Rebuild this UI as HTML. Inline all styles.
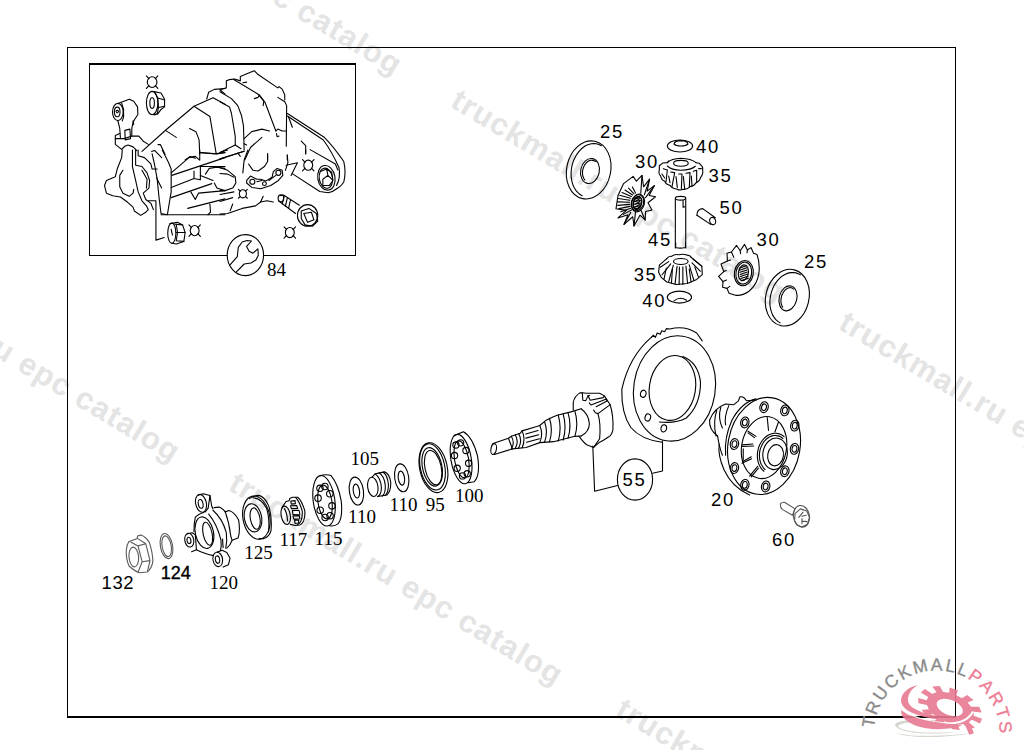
<!DOCTYPE html>
<html><head><meta charset="utf-8">
<style>
html,body{margin:0;padding:0;background:#fff;width:1024px;height:750px;overflow:hidden}
svg{display:block}
.wm{font-family:"Liberation Sans",sans-serif;font-weight:bold;font-size:31px;letter-spacing:1.1px;fill:#e4e4e4}
.ls{font-family:"Liberation Sans",sans-serif;font-size:18.5px;letter-spacing:1.6px;fill:#000}
.lsb{font-family:"Liberation Sans",sans-serif;font-size:18px;fill:#000;stroke:#000;stroke-width:0.35}
.lf{font-family:"Liberation Serif",serif;font-size:19px;fill:#000}
.d{fill:none;stroke:#000;stroke-width:1.1;stroke-linejoin:round;stroke-linecap:round}
.d *{vector-effect:non-scaling-stroke}
</style></head><body>
<svg width="1024" height="750" viewBox="0 0 1024 750">
<!-- watermarks -->
<g class="wm">
<text transform="translate(66,-121) rotate(31)">truckmall.ru epc catalog</text>
<text transform="translate(449,106) rotate(31)">truckmall.ru epc catalog</text>
<text transform="translate(837,328) rotate(31)">truckmall.ru epc catalog</text>
<text transform="translate(-156,266) rotate(31)">truckmall.ru epc catalog</text>
<text transform="translate(227,489) rotate(31)">truckmall.ru epc catalog</text>
<text transform="translate(614,715) rotate(31)">truckmall.ru epc catalog</text>
</g>
<!-- borders -->
<rect x="67.5" y="47.5" width="888" height="669" fill="none" stroke="#000" stroke-width="1"/>
<line x1="67" y1="717" x2="956" y2="717" stroke="#000" stroke-width="2"/>
<rect x="89.5" y="63.5" width="266" height="192" fill="none" stroke="#000" stroke-width="1"/>
<line x1="89" y1="64" x2="356" y2="64" stroke="#000" stroke-width="2"/>
<g class="d" transform="translate(95,65) scale(0.12695)">
<!-- X symbol -->
<ellipse cx="450" cy="135" rx="38" ry="42"/>
<path d="M405 85 L425 108 M495 85 L475 108 M405 185 L425 162 M495 185 L475 162"/>
<!-- nut -->
<ellipse cx="450" cy="300" rx="45" ry="92"/>
<ellipse cx="450" cy="300" rx="18" ry="42"/>
<path d="M465 210 L520 220 L548 270 L548 330 L520 350 L495 385 L465 393"/>
<path d="M470 215 L495 260 L548 275 M495 260 L500 335 L548 325 M500 335 L490 385"/>
<!-- arm / bushing -->
<ellipse cx="180" cy="370" rx="42" ry="68"/>
<ellipse cx="175" cy="370" rx="22" ry="38"/>
<path d="M165 365 q10 -15 20 0 q-5 15 -15 10"/>
<path d="M185 302 L270 270 L305 285 L335 330 L338 390 L318 420 L300 450 L290 500 L290 560"/>
<path d="M180 438 L195 500 L200 570"/>
<path d="M210 300 L225 350 L225 410 L215 440"/>
<path d="M300 440 L305 470"/>
<path d="M235 515 L275 505 L280 580 L238 590 Z"/>
<path d="M195 540 L160 555 L160 625 L210 665 L235 640 L260 630 L300 645 L330 675"/>
<path d="M160 580 L230 580 L290 560 L345 560 L380 600 L420 625"/>
<!-- housing top edges -->
<path d="M370 680 L560 510 L780 325 L930 258 L1024 310"/>
<path d="M780 325 L905 405 L955 700"/>
<path d="M555 515 L640 570"/>
<path d="M880 268 L895 215 L940 192 L1024 185"/>
<path d="M985 195 L1024 230"/>
<path d="M745 500 L795 525 L820 590 L825 700"/>
<path d="M825 690 L960 700 L1024 690"/>
<path d="M446 682 L469 673 L525 729"/>
<path d="M496 627 L515 627 L552 705"/>
<path d="M710 748 L750 720 L790 735"/>
</g>

<g class="d" transform="translate(220,65) scale(0.12695)">
<path d="M0 195 L50 180 L50 125 L75 115 L115 110 L160 125 L160 90 L245 55 L270 45 L300 75 L455 180 L465 170 L490 190 L510 235 L510 275"/>
<path d="M0 210 L90 265 L140 320 L170 400 L185 480 L190 670"/>
<path d="M0 290 L75 330 L90 380 L120 560 L120 630 L0 690"/>
<path d="M120 630 L165 660"/>
<path d="M105 112 L300 230 L355 295 L440 520"/>
<path d="M180 140 L210 135"/>
<path d="M270 265 L300 255 L310 235 L345 285 L340 320"/>
<path d="M455 255 L510 290 L525 320 L522 640"/>
<path d="M440 520 L455 505 L490 520 L522 520"/>
<path d="M445 540 L450 565 L465 560"/>
<path d="M190 580 L250 525 L330 505 L390 520"/>
<path d="M195 748 L240 650 L330 570"/>


<path d="M540 410 L570 490"/>
<path d="M640 600 L675 635 L675 700"/>

<path d="M0 740 L190 680"/>
<path d="M375 700 L375 748 M530 710 L530 748"/>
<path d="M190 620 L210 630"/>
</g>

<g class="d" transform="translate(95,150) scale(0.12695)">
<path d="M215 0 L210 60 L175 150 L160 210 L90 240 L75 280 L90 340 L140 360 L200 370 L255 410 L300 450 L310 480 L360 515 L400 490 L420 470 L405 440 L370 400 L340 330 L320 240 L295 130 L295 0"/>
<path d="M220 160 L195 200 L195 290 L220 340 L270 365 L300 340 L305 310"/>
<path d="M320 0 L320 120 L370 130 L410 180 L430 240 L425 300 L380 340 L400 390 L440 420 L460 470"/>
<path d="M340 0 L340 45 L390 60 L440 110 L450 150 L490 150"/>
<path d="M370 160 L410 230 L405 300"/>

<path d="M450 30 L470 120 L490 230 L505 380 L520 500 L570 510 L580 450 L600 330 L600 150 L580 100 L530 0"/>
<path d="M485 220 L525 300"/>
<path d="M420 400 L480 400 L480 710 L545 690"/>
<path d="M520 510 L1024 510"/>
<path d="M600 180 L740 60 L790 50 L825 80 L825 0"/>
<path d="M825 20 L940 30 L1024 20"/>
<path d="M605 200 L1024 60"/>
<path d="M600 295 L780 225 L780 165 M780 225 L830 235 L830 130 L1024 130"/>
<path d="M600 375 L920 265"/>
<path d="M830 200 L930 240"/>
<path d="M870 190 L900 145 L960 135 L1024 145"/>
<path d="M940 260 L960 300 L1024 320"/>
<path d="M755 330 L790 390 L815 340 L1024 320"/>
<path d="M730 460 L1024 385"/>
<path d="M905 425 L910 490 L890 510"/>
<!-- nut -->
<ellipse cx="605" cy="655" rx="32" ry="80"/>
<path d="M590 580 L650 570 L690 590 L710 650 L700 720 L640 740 L605 735"/>
<path d="M630 585 L690 590 M640 650 L710 650 M640 715 L700 720 M640 585 L650 650 L640 715"/>
<path d="M600 625 L610 670"/>
<!-- X -->
<ellipse cx="785" cy="635" rx="35" ry="40"/>
<path d="M740 590 L760 612 M830 590 L810 612 M740 680 L760 658 M830 680 L810 658"/>
</g>

<g class="d" transform="translate(220,150) scale(0.12695)">
<path d="M0 70 L190 10 M0 20 L60 0"/>
<path d="M140 25 L160 50"/>
<path d="M220 0 L190 80 L180 180"/>
<path d="M225 110 L260 160 L300 165 L350 130 L375 90 L375 30"/>
<path d="M0 140 L60 160 L120 210 L125 260 L100 300 L40 320 L0 320"/>
<path d="M0 185 L60 190 L110 215"/>
<path d="M210 240 L240 205 L290 230 L320 230 L360 245 L410 215 L420 170 L450 145 L490 160 L495 200 L460 240 L400 280 L320 305 L250 295 L210 260 Z"/>
<circle cx="255" cy="250" r="20"/><circle cx="350" cy="265" r="15"/><circle cx="460" cy="180" r="20"/>
<path d="M290 250 L330 240 M385 240 L440 200"/>
<ellipse cx="180" cy="345" rx="28" ry="32"/>
<path d="M145 310 L160 325 M215 310 L200 325 M145 380 L160 365 M215 380 L200 365"/>
<path d="M0 350 L110 330 M0 405 L100 375"/>
<path d="M0 505 L60 500 L175 460 L280 440 L320 410 L340 365"/>
<path d="M320 410 L370 400 L420 410"/>
<path d="M80 480 L100 425"/>
<path d="M530 40 L535 100 L515 160 M520 120 L610 100 L560 200"/>
<ellipse cx="695" cy="120" rx="35" ry="40"/>
<path d="M650 75 L670 97 M740 75 L720 97 M650 165 L670 143 M740 165 L720 143"/>



<path d="M675 0 L675 30"/>
<path d="M531 -287 L824 -98 Q900 -20 975 91 Q995 176 975 252 Q950 290 928 299 Q890 330 852 337 L786 327 L569 186"/>
<path d="M531 -268 L814 -79 Q880 10 937 138 Q952 214 918 280"/>
<path d="M710 -3 L909 110 L928 157"/>
<!-- nut -->
<ellipse cx="838" cy="219" rx="68" ry="98" transform="rotate(-10 838 219)"/>
<ellipse cx="834" cy="222" rx="52" ry="80" transform="rotate(-10 834 222)"/>
<path d="M790 170 L840 150 L880 175 L890 240 L860 280 L810 280 M840 150 L850 200 L890 240 M850 200 L810 230 L810 280"/>
<!-- bolt -->
<path d="M470 360 L500 355 L625 435 M460 400 L595 500"/>
<ellipse cx="480" cy="380" rx="22" ry="28"/>
<path d="M505 365 L490 425 M530 380 L515 445 M555 395 L540 460"/>
<ellipse cx="690" cy="515" rx="80" ry="85"/>
<path d="M640 480 L700 460 L760 500 L770 560 L730 600 L670 590 L640 540 Z"/>
<path d="M660 500 L720 490 L740 550 L690 570 Z"/>
<!-- X -->
<ellipse cx="550" cy="650" rx="35" ry="40"/>
<path d="M505 605 L525 627 M595 605 L575 627 M505 695 L525 673 M595 695 L575 673"/>
</g>

<g class="d">
<ellipse cx="245.4" cy="255.1" rx="18.2" ry="20.5" fill="#fff"/>
<path d="M230.0 264.9 L237.3 256.6 L238.3 247.3 L242.2 242.0 L247.1 240.5 L251.5 241.0 L246.6 246.4 L249.1 251.25 L253.0 253.2 L257.9 248.8 L258.3 255.2 L255.9 260.0 L251.0 263.0 L244.2 264.0 L236.4 271.8"/>
</g>

<g class="d" transform="translate(650,130) scale(0.13333)">
<!-- washer 40 top -->
<ellipse cx="225" cy="120" rx="95" ry="45"/>
<path d="M180 105 Q185 80 232 80 Q280 82 285 105 Q270 120 232 120 Q195 120 180 105 Z"/>
<!-- gear 35 top -->
<path d="M130 245 Q160 215 232 212 Q310 215 345 245"/>
<ellipse cx="232" cy="250" rx="55" ry="22"/>
<path d="M130 270 Q160 300 232 302 Q310 300 340 272"/>
<path d="M70 268 L95 248 L130 245 L140 232 M345 245 L370 250 L392 275 L395 285"/>
<path d="M70 268 L70 300 Q61 326 80 345 Q83 372 110 385 Q121 411 150 415 Q170 442 200 442 Q224 457 250 445 Q279 448 300 425 Q330 421 345 395 Q374 383 380 355 Q401 332 395 300 L395 285"/>
<path d="M100 290 L130 300 L120 390 M155 315 L185 320 L165 425 M215 330 L240 330 L235 442 M270 325 L300 320 L295 428 M325 310 L350 302 L350 395 M365 290 L385 290"/>
<path d="M90 330 L110 360 M140 345 L150 395 M195 350 L205 430 M250 350 L260 440 M310 345 L315 420"/>
<!-- pin 45 -->
<path d="M190 515 L190 885 M268 515 L268 885"/>
<ellipse cx="229" cy="512" rx="39" ry="14"/>
<path d="M248 530 L248 580 L262 575"/>
<!-- pin 50 -->
<path d="M395 590 L490 658 M352 640 L455 708"/>
<path d="M395 590 Q350 595 352 640"/>
<ellipse cx="470" cy="683" rx="22" ry="28" transform="rotate(-20 470 683)"/>
</g>

<g class="d" transform="translate(560,135) scale(0.13333)">
<!-- washer 25 top -->
<ellipse cx="215" cy="262" rx="165" ry="220" transform="rotate(12 215 262)"/>
<path d="M166 455 L148 445 L133 431 L119 415 L107 395 L97 374 L90 350 L85 325 L83 299 L84 272 L87 245 L93 218 L102 192 L113 168 L126 145 L141 125 L157 107 L175 92 L194 79 L214 71 L234 66 L254 64 L273 66 L292 72 L310 81"/>
<ellipse cx="225" cy="270" rx="70" ry="95" transform="rotate(12 225 270)"/>
<path d="M186 337 L181 330 L177 322 L173 314 L171 305 L169 295 L169 285 L169 275 L170 264 L173 254 L176 244 L180 235 L184 226 L190 218 L196 210 L202 204 L209 199 L216 194 L224 191 L231 189 L239 189 L246 190 L253 192 L260 195 L266 199"/>
<!-- gear 30 top: hub -->
<ellipse cx="585" cy="510" rx="48" ry="68" transform="rotate(15 585 510)"/>
<ellipse cx="580" cy="510" rx="32" ry="50" transform="rotate(15 580 510)"/>
<path d="M560 480 L600 470 M555 500 L605 490 M555 520 L605 510 M560 540 L600 530"/>
</g>

<g class="d" transform="translate(610,170) scale(0.07994)">
<path d="M170 170 L290 80 L330 140 L400 68 L420 210 L495 115 L465 265 L555 195 L490 320 L570 335 L475 410 L525 500 L445 520 L440 625 L375 565 L300 700 L285 585 L175 680 L225 560 L100 600 L205 505 L75 485 L100 320 Z"/>
<path d="M274 498 L168 555 M261 478 L135 522 M252 455 L112 483 M246 430 L98 442 M245 403 L95 399 M248 378 L104 357 M256 353 L122 317 M267 331 L151 281 M282 313 L188 251 M300 299 L232 227 M319 289 L280 212 "/>
<path d="M400 68 L385 290 M495 115 L430 310 M555 195 L445 345 M300 700 L320 520 M440 625 L390 510 M175 680 L260 530"/>
<ellipse cx="345" cy="410" rx="75" ry="102" transform="rotate(18 345 410)"/>
<ellipse cx="345" cy="410" rx="50" ry="76" transform="rotate(18 345 410)"/>
<path d="M305 364 L365 328 M310 396 L370 360 M315 428 L375 392 M320 460 L380 424 M325 492 L385 456 "/>
</g>
<g class="d" transform="translate(650,240) scale(0.09337)">
<!-- pin 45 bottom -->
<path d="M275 30 L275 80 Q320 95 380 80 L380 30"/>
<!-- gear 35 lower -->
<path d="M180 200 Q200 170 230 175 Q260 150 310 158 Q350 145 400 162 Q430 165 440 185"/>
<ellipse cx="330" cy="230" rx="78" ry="32"/>
<path d="M180 200 L100 270 L92 345 L120 400 L180 450 L280 476 L400 466 L500 422 L560 370 L555 280 L440 185"/>
<path d="M200 232 L110 292 M222 255 L130 372 M250 270 L200 445 M290 282 L268 472 M315 290 L312 476 M352 287 L352 476 M385 280 L402 464 M420 266 L470 432 M450 245 L540 335 M460 205 L555 282"/>
<path d="M175 300 L150 420 M240 310 L230 460 M420 310 L440 450 M480 290 L520 400"/>
<!-- washer 40 lower -->
<ellipse cx="315" cy="612" rx="130" ry="64"/>
<path d="M258 652 Q320 600 392 645"/>
</g>
<g class="d" transform="translate(710,235) scale(0.13333)">
<!-- gear 30 lower moved -->
<!-- washer 25 lower -->
<ellipse cx="580" cy="470" rx="162" ry="215" transform="rotate(14 580 470)"/>
<path d="M526 659 L509 648 L494 635 L481 618 L469 599 L461 577 L454 554 L450 529 L449 503 L451 477 L455 451 L462 425 L471 400 L482 377 L496 355 L511 336 L528 319 L546 305 L565 294 L585 286 L605 282 L625 281 L644 284 L662 290 L679 299"/>
<ellipse cx="585" cy="475" rx="66" ry="95" transform="rotate(14 585 475)"/>
<path d="M545 542 L541 535 L538 527 L535 518 L533 509 L532 500 L532 490 L533 479 L535 469 L537 459 L540 449 L545 440 L549 431 L555 423 L561 416 L567 410 L574 405 L581 400 L588 398 L595 396 L602 395 L609 396 L616 398 L622 402 L628 406"/>
</g>

<g class="d" transform="translate(715,240) scale(0.08)">
<path d="M150 165 L205 150 L270 68 L315 135 L370 55 L405 125 L450 95 L482 165 L525 180 Q565 300 548 420 Q525 560 425 640 Q330 705 255 690 L175 665 L150 605 L95 590 L100 520 L45 455 L110 395 L75 300 L155 262 Z"/>
<path d="M205 150 L235 215 M315 135 L320 170 M405 125 L400 160 M155 262 L195 250 M110 395 L140 380 M100 520 L145 500 M150 605 L185 580"/>
<ellipse cx="360" cy="415" rx="118" ry="158" transform="rotate(10 360 415)"/>
<ellipse cx="360" cy="415" rx="98" ry="138" transform="rotate(10 360 415)"/>
<ellipse cx="355" cy="410" rx="62" ry="100" transform="rotate(10 355 410)"/>
<path d="M303 352 L393 322 M307 378 L397 348 M311 404 L401 374 M315 430 L405 400 M319 456 L409 426 M323 482 L413 452 M327 508 L417 478 "/>
</g>
<g class="d" transform="translate(610,320) scale(0.17340)">
<ellipse cx="372" cy="395" rx="235" ry="305" transform="rotate(9 372 395)"/>
<path d="M238 100 Q110 210 68 400 Q65 540 120 620 Q180 690 300 705"/>
<path d="M238 100 L250 88 L262 100 L272 75 L290 82 L298 62 L315 68 L325 50 L345 52 Q430 30 500 75 L532 120"/>
<ellipse cx="360" cy="392" rx="133" ry="188" transform="rotate(9 360 392)"/>
<path d="M420 210 Q510 245 522 360 Q522 490 440 565 Q380 598 285 588"/>
<ellipse cx="192" cy="425" rx="16" ry="21" transform="rotate(15 192 425)"/>
<ellipse cx="218" cy="562" rx="16" ry="21" transform="rotate(15 218 562)"/>
<ellipse cx="310" cy="625" rx="16" ry="21" transform="rotate(15 310 625)"/>
</g>
<!-- leader lines 55 -->
<g class="d">
<ellipse cx="635" cy="479.5" rx="17.6" ry="20.6"/>
<path d="M592.8 446 L594.6 491.3 L617.6 485.5"/>
<path d="M662.5 441 L662.5 471 L652.6 473.3"/>
</g>

<g class="d" transform="translate(480,380) scale(0.13672)">
<ellipse cx="100" cy="505" rx="20" ry="40" transform="rotate(10 100 505)"/>
<path d="M95 465 L208 426 L229 411 L294 390 L308 372 L415 340 L437 333 L480 297 L537 269 L565 258 L665 233 L740 210"/>
<path d="M105 545 L237 504 L337 494 L437 458 L537 451 L694 412 L740 410"/>
<path d="M208 426 Q225 470 237 504"/>
<path d="M229 411 Q257 458 229 504 M258 400 Q286 450 258 500 M283 392 Q311 444 283 497 M308 372 Q336 434 308 495 M437 333 Q465 396 437 458 M472 305 Q500 380 472 455 M508 280 Q536 366 508 453 M572 256 Q600 352 572 447 M608 248 Q636 344 608 440 M644 240 Q672 332 644 425 M694 228 Q722 320 694 412 "/>
<path d="M335 395 L425 370 M335 425 L430 400 M340 455 L435 430"/>
<path d="M740 210 Q795 250 800 320 Q798 380 740 410"/>
<path d="M682 220 L682 163 Q692 118 730 94 L748 93 L752 148 L774 151 L790 116 L802 113"/>
<path d="M748 93 L777 97 L875 97 L910 116 L901 129 L806 148 L790 116"/>
<path d="M799 167 L812 183 L920 141 L932 151 L850 195"/>
<path d="M831 220 L844 240 L863 246 L945 186 L951 179"/>
<path d="M910 116 L932 151 L951 179 Q978 260 972 366 Q962 405 939 417 Q900 445 875 455 L831 493"/>
<path d="M863 246 Q885 322 875 430 L831 493"/>
<path d="M723 411 Q760 460 780 474 L831 493"/>



</g>

<g class="d" transform="translate(700,380) scale(0.1601)">
<ellipse cx="400" cy="412" rx="225" ry="305" transform="rotate(10 400 412)"/>
<path d="M160 470 Q150 360 200 250 Q260 140 350 118"/>
<path d="M120 400 Q110 470 150 560 Q200 670 310 718"/>
<path d="M60 250 Q90 175 160 150 L210 155 L240 130 L250 105 Q275 100 290 130 L350 125"/>
<path d="M60 250 Q55 310 110 350 M105 190 Q80 260 100 350 M130 170 Q110 240 140 300 M180 160 Q150 230 160 280"/>
<path d="M110 350 Q120 420 140 470"/>
<ellipse cx="400" cy="170" rx="26" ry="34" transform="rotate(12 400 170)"/><ellipse cx="400" cy="170" rx="15" ry="21" transform="rotate(12 400 170)"/><ellipse cx="530" cy="190" rx="26" ry="34" transform="rotate(12 530 190)"/><ellipse cx="530" cy="190" rx="15" ry="21" transform="rotate(12 530 190)"/><ellipse cx="592" cy="285" rx="26" ry="34" transform="rotate(12 592 285)"/><ellipse cx="592" cy="285" rx="15" ry="21" transform="rotate(12 592 285)"/><ellipse cx="590" cy="430" rx="26" ry="34" transform="rotate(12 590 430)"/><ellipse cx="590" cy="430" rx="15" ry="21" transform="rotate(12 590 430)"/><ellipse cx="530" cy="570" rx="26" ry="34" transform="rotate(12 530 570)"/><ellipse cx="530" cy="570" rx="15" ry="21" transform="rotate(12 530 570)"/><ellipse cx="410" cy="665" rx="26" ry="34" transform="rotate(12 410 665)"/><ellipse cx="410" cy="665" rx="15" ry="21" transform="rotate(12 410 665)"/><ellipse cx="280" cy="655" rx="26" ry="34" transform="rotate(12 280 655)"/><ellipse cx="280" cy="655" rx="15" ry="21" transform="rotate(12 280 655)"/><ellipse cx="215" cy="550" rx="26" ry="34" transform="rotate(12 215 550)"/><ellipse cx="215" cy="550" rx="15" ry="21" transform="rotate(12 215 550)"/><ellipse cx="215" cy="400" rx="26" ry="34" transform="rotate(12 215 400)"/><ellipse cx="215" cy="400" rx="15" ry="21" transform="rotate(12 215 400)"/><ellipse cx="280" cy="265" rx="26" ry="34" transform="rotate(12 280 265)"/><ellipse cx="280" cy="265" rx="15" ry="21" transform="rotate(12 280 265)"/>
<ellipse cx="400" cy="422" rx="140" ry="195" transform="rotate(10 400 422)"/>
<ellipse cx="469" cy="461" rx="76" ry="99" transform="rotate(10 469 461)"/>
<ellipse cx="472" cy="470" rx="49" ry="67" transform="rotate(10 472 470)"/>
<path d="M406 559 L397 550 L390 539 L383 528 L378 515 L374 501 L372 486 L371 471 L372 456 L374 441 L378 427 L384 413 L390 400 L398 387 L407 377 L417 367 L428 359 L439 353 L451 349 L462 347 L474 347 L486 349 L497 352 L508 358 L518 365"/><path d="M399 570 L388 560 L380 549 L372 535 L366 521 L362 505 L359 489 L358 472 L359 455 L362 439 L366 422 L372 406 L380 392 L389 378 L399 366 L410 356 L422 347 L435 340 L449 336 L462 333 L476 333 L489 335 L502 339 L514 345 L525 354"/>
<path d="M300 320 L350 352 M262 415 L335 412 M262 520 L322 492 M310 600 L360 540 M420 235 L428 315 M490 262 L468 325 M270 430 L270 500"/>
<path d="M300 330 L340 360 M265 405 L330 400 M265 510 L320 480 M320 605 L365 550"/>
</g>
<g class="d" style="stroke:#555" transform="translate(770,495) scale(0.0533)">
<path d="M200 160 Q230 125 280 140 L470 260 L420 380 L230 270 Q185 230 200 160 Z"/>
<ellipse cx="590" cy="400" rx="150" ry="205" transform="rotate(-10 590 400)"/>
<path d="M470 350 L570 260 L690 300 L740 420 L700 550 L600 600 L500 560 L460 480 Z"/>
<path d="M540 420 L620 320 M600 400 L680 380 M600 490 L690 500 M600 540 L600 440"/>
</g>

<g class="d" transform="translate(120,485) scale(0.12)">
<!-- nut 132 -->
</g>
<g class="d" style="stroke:#5a5a5a" transform="translate(120,530) scale(0.06)">
<path d="M150 190 L290 140 L290 100 L350 85 Q430 115 490 210 Q545 380 548 520 Q530 650 450 700 L330 712 Q250 690 150 600 Q95 480 105 330 Q115 240 150 190 Z"/>
<path d="M180 200 L300 265 L430 230 L290 140 M430 230 L500 510 L460 680 M300 265 L370 530 L300 705 M370 530 L500 510"/>
<ellipse cx="230" cy="450" rx="80" ry="165" transform="rotate(-5 230 450)"/>
<ellipse cx="775" cy="268" rx="102" ry="212" transform="rotate(-10 775 268)"/>
<ellipse cx="778" cy="270" rx="76" ry="175" transform="rotate(-10 778 270)"/>
</g>
<g class="d" transform="translate(120,485) scale(0.12)">
<!-- flange 120 -->
</g>
<g class="d" transform="translate(182,490) scale(0.10676)">
<ellipse cx="178" cy="125" rx="50" ry="85" transform="rotate(-12 178 125)"/>
<ellipse cx="175" cy="130" rx="22" ry="42" transform="rotate(-12 175 130)"/>
<path d="M150 48 L200 35 L262 52 L278 150 L290 178"/>
<path d="M218 205 L245 170 L262 52"/>
<path d="M205 210 Q150 225 125 255 Q110 320 112 390"/>
<ellipse cx="68" cy="470" rx="42" ry="65" transform="rotate(-10 68 470)"/>
<ellipse cx="65" cy="472" rx="18" ry="30" transform="rotate(-10 65 472)"/>
<path d="M50 410 L95 400 L125 420 L135 560 L90 578"/>
<path d="M135 560 Q200 595 295 615"/>
<ellipse cx="335" cy="650" rx="45" ry="68" transform="rotate(-10 335 650)"/>
<ellipse cx="333" cy="652" rx="20" ry="35" transform="rotate(-10 333 652)"/>
<path d="M330 582 L375 565 L420 585 L450 640 L435 700 L385 722"/>
<ellipse cx="210" cy="400" rx="85" ry="150" transform="rotate(-12 210 400)"/>
<ellipse cx="240" cy="410" rx="42" ry="110" transform="rotate(-12 240 410)"/>
<path d="M250 225 Q330 320 365 470 Q372 530 360 565"/>
<path d="M290 190 Q380 270 415 400 Q425 480 410 545"/>
<path d="M300 165 L350 160 Q390 180 405 205 L440 192 Q490 205 530 280 Q548 380 525 450 L470 470 Q450 520 420 545"/>
<path d="M405 205 Q440 300 455 420 Q460 450 470 470"/>
<path d="M380 460 L385 540"/>
</g>
<g>
</g>

<g class="d" transform="translate(235,460) scale(0.12)">
<!-- seal 125 -->
<ellipse cx="178" cy="480" rx="112" ry="182" transform="rotate(-10 178 480)"/>
<path d="M120 322 Q160 295 200 295 Q250 310 280 380 Q310 470 300 590 Q285 640 240 655 L200 655"/>
<path d="M150 315 Q220 320 262 400 Q290 480 280 600"/>
<ellipse cx="150" cy="482" rx="72" ry="118" transform="rotate(-10 150 482)"/>
<ellipse cx="168" cy="488" rx="40" ry="90" transform="rotate(-10 168 488)"/>

<!-- bearing 115 -->
<ellipse cx="742" cy="340" rx="90" ry="212" transform="rotate(-8 742 340)"/>
<path d="M710 130 Q760 115 800 130 Q860 200 885 340 Q900 480 860 530 Q830 555 790 548"/>
<ellipse cx="750" cy="350" rx="58" ry="142" transform="rotate(-8 750 350)"/>

<circle cx="749" cy="221" r="27"/><circle cx="790" cy="281" r="27"/><circle cx="808" cy="382" r="27"/><circle cx="792" cy="464" r="27"/><circle cx="751" cy="479" r="27"/><circle cx="710" cy="419" r="27"/><circle cx="692" cy="318" r="27"/><circle cx="708" cy="236" r="27"/>
</g>

<g class="d" transform="translate(340,420) scale(0.15625)">
<!-- washer 110 left -->
<ellipse cx="105" cy="455" rx="45" ry="90" transform="rotate(-8 105 455)"/>
<ellipse cx="105" cy="455" rx="20" ry="45" transform="rotate(-8 105 455)"/>
<!-- spacer 105 -->
<ellipse cx="210" cy="428" rx="33" ry="62" transform="rotate(-8 210 428)"/>
<path d="M205 365 L225 345 L285 332 Q318 345 325 400 Q325 460 300 480 L240 490"/>
<path d="M225 345 Q260 370 265 430 Q265 480 240 490 M250 338 Q285 360 290 420 Q292 470 270 488 M275 333 Q305 355 310 415 Q310 465 290 482"/>
<!-- washer 110 right -->
<ellipse cx="395" cy="370" rx="45" ry="90" transform="rotate(-8 395 370)"/>
<ellipse cx="393" cy="372" rx="20" ry="45" transform="rotate(-8 393 372)"/>
<!-- seal 95 -->
<ellipse cx="598" cy="305" rx="88" ry="162" transform="rotate(-12 598 305)"/>
<ellipse cx="592" cy="300" rx="78" ry="150" transform="rotate(-12 592 300)"/>
<ellipse cx="590" cy="300" rx="62" ry="125" transform="rotate(-12 590 300)"/>
<ellipse cx="596" cy="305" rx="52" ry="112" transform="rotate(-12 596 305)"/>
<!-- bearing 100 -->
<ellipse cx="775" cy="250" rx="65" ry="160" transform="rotate(-10 775 250)"/>
<path d="M730 100 L790 75 Q850 110 880 230 Q900 350 860 395 L820 402"/>
<ellipse cx="778" cy="252" rx="45" ry="120" transform="rotate(-10 778 252)"/>

<circle cx="772" cy="146" r="20"/><circle cx="806" cy="195" r="20"/><circle cx="823" cy="277" r="20"/><circle cx="814" cy="344" r="20"/><circle cx="784" cy="358" r="20"/><circle cx="750" cy="309" r="20"/><circle cx="733" cy="227" r="20"/><circle cx="742" cy="160" r="20"/>
<!-- shaft end (left part of pinion) -->
</g>

<g class="d" transform="translate(270,490) scale(0.05333)">
<ellipse cx="295" cy="475" rx="85" ry="175" transform="rotate(-10 295 475)"/>
<path d="M270 350 Q320 430 330 580"/>
<path d="M225 330 L300 215 L360 200 L370 160 L420 135 L520 135 Q590 190 650 380 Q665 480 630 580 Q600 640 560 655 L480 665 L380 645"/>
<path d="M480 140 Q560 230 605 400 Q610 520 580 580 Q550 640 510 650"/>
<path d="M390 205 L470 200 L475 255 L400 265 Z M385 295 L500 290 L520 345 L400 350 Z M420 385 L545 380 L560 455 L430 460 Z M430 485 L550 480 L560 540 L445 545 Z M460 565 L540 560 L535 620 L470 625 Z"/>
</g>
<g transform="translate(895,695) scale(0.078125)" style="opacity:0.9">
<path fill="#d2d2ca" d="M0 380 C 20 315, 300 300, 620 335 C 300 330, 60 355, 40 400 C 80 470, 400 500, 870 470 C 400 525, 20 480, 0 380 Z"/>
<path fill="#d2d2ca" d="M20 480 C 100 545, 500 565, 960 492 C 500 535, 150 535, 20 480 Z"/>
<path fill="#e87a91" fill-rule="evenodd" d="M981 318 L944 348 L1022 417 L944 442 L874 371 L870 372 L804 375 L829 449 L725 434 L711 362 L706 360 L634 336 L597 392 L499 341 L547 291 L542 288 L487 244 L400 264 L340 193 L433 181 L431 177 L409 128 L300 105 L296 38 L406 67 L406 64 L425 24 L329 -33 L383 -77 L474 -15 L477 -17 L531 -34 L478 -108 L572 -114 L616 -39 L621 -38 L692 -28 L699 -95 L804 -61 L786 3 L791 5 L858 41 L923 1 L1005 64 L931 97 L935 101 L975 149 L1078 151 L1110 223 L1005 214 L1006 217 L1007 264 L1114 305 L1088 364 L983 316 Z M864 226 L868 211 L867 195 L863 178 L854 160 L842 143 L826 126 L807 110 L786 95 L762 81 L737 70 L711 61 L685 54 L659 50 L634 48 L611 50 L590 54 L572 60 L557 70 L546 81 L538 94 L534 109 L535 125 L539 142 L548 160 L560 177 L576 194 L595 210 L616 225 L640 239 L665 250 L691 259 L717 266 L743 270 L768 272 L791 270 L812 266 L830 260 L845 250 L856 239 Z"/>
<path fill="#e87a91" d="M294 -128 C 150 -100, 60 0, 80 100 C 110 200, 250 260, 470 300 C 650 335, 880 345, 960 260 L 930 240 C 850 300, 650 290, 470 255 C 290 215, 160 150, 165 60 C 170 -20, 220 -90, 294 -128 Z"/>
<path fill="none" stroke="#fff" stroke-width="26" d="M 60 165 C 200 290, 450 350, 620 362 C 780 372, 920 350, 1000 210"/>
<path fill="#e87a91" d="M80 190 C 180 290, 450 360, 870 382 C 720 450, 450 462, 250 388 C 150 342, 90 290, 80 235 Z"/>
<path fill="#e87a91" d="M905 400 L 965 380 L 1010 490 L 950 510 Z"/>
</g>
<g style="font-family:'Liberation Sans',sans-serif;font-size:17.5px;stroke-width:0.35;text-anchor:middle"><text transform="translate(874.55,723.10) rotate(279.41)" fill="#8a8a8a" stroke="#8a8a8a">T</text><text transform="translate(878.29,709.78) rotate(292.02)" fill="#8a8a8a" stroke="#8a8a8a">R</text><text transform="translate(885.42,696.81) rotate(305.51)" fill="#8a8a8a" stroke="#8a8a8a">U</text><text transform="translate(895.37,685.85) rotate(319.01)" fill="#8a8a8a" stroke="#8a8a8a">C</text><text transform="translate(907.18,677.74) rotate(332.06)" fill="#8a8a8a" stroke="#8a8a8a">K</text><text transform="translate(921.46,672.27) rotate(346.00)" fill="#8a8a8a" stroke="#8a8a8a">M</text><text transform="translate(936.63,670.40) rotate(359.94)" fill="#8a8a8a" stroke="#8a8a8a">A</text><text transform="translate(949.44,671.70) rotate(371.67)" fill="#8a8a8a" stroke="#8a8a8a">L</text><text transform="translate(960.83,675.21) rotate(382.52)" fill="#8a8a8a" stroke="#8a8a8a">L</text><text transform="translate(972.16,681.33) rotate(394.26)" fill="#ee7d95" stroke="#ee7d95">P</text><text transform="translate(982.68,690.33) rotate(406.87)" fill="#ee7d95" stroke="#ee7d95">A</text><text transform="translate(991.22,701.83) rotate(419.93)" fill="#ee7d95" stroke="#ee7d95">R</text><text transform="translate(996.80,714.50) rotate(432.54)" fill="#ee7d95" stroke="#ee7d95">T</text><text transform="translate(999.43,727.59) rotate(444.71)" fill="#ee7d95" stroke="#ee7d95">S</text></g>


<!-- labels -->
<g class="ls">
<text x="600" y="138.3">25</text>
<text x="696" y="153">40</text>
<text x="635" y="168.2">30</text>
<text x="708.5" y="182.3">35</text>
<text x="719.5" y="213.5">50</text>
<text x="648" y="246.2">45</text>
<text x="756.5" y="246.2">30</text>
<text x="804" y="267.7">25</text>
<text x="633.7" y="280.6">35</text>
<text x="642.3" y="307">40</text>
<text x="622.5" y="486">55</text>
<text x="711" y="506">20</text>
<text x="772" y="546.2">60</text>
<text x="101.5" y="588.8" style="font-size:18.5px;letter-spacing:0.6px">132</text>
</g>
<g class="lsb"><text x="160.8" y="579">124</text></g>
<g class="lf">
<text x="267" y="275.5">84</text>
<text x="209.5" y="588.7">120</text>
<text x="244.3" y="558.6">125</text>
<text x="279.5" y="545.8">117</text>
<text x="314.6" y="544.5">115</text>
<text x="350.5" y="464.9">105</text>
<text x="348.1" y="523">110</text>
<text x="389.6" y="510.5">110</text>
<text x="425.8" y="510.5">95</text>
<text x="455.1" y="501.7">100</text>
</g>
</svg>
</body></html>
